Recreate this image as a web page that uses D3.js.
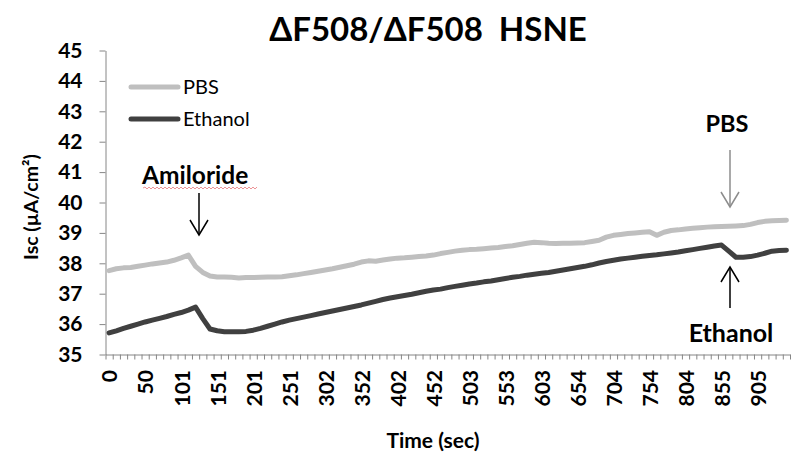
<!DOCTYPE html>
<html>
<head>
<meta charset="utf-8">
<script src="https://d3js.org/d3.v7.min.js"></script>
<style>
  body { margin: 0; background: #fff; }
  text { font-family: Lato, "Open Sans", sans-serif; }
</style>
</head>
<body>
<div id="chart"></div>
<script>
// Data (one value per sample, ~10 s apart)
var seriesNames = ["PBS", "Ethanol"];
var seriesColors = ["#bfbfbf", "#404040"];

var pbs = [37.76, 37.82, 37.85, 37.86, 37.90, 37.94, 37.98, 38.01, 38.04, 38.10,
  38.18, 38.27, 37.90, 37.70, 37.58, 37.55, 37.55, 37.54, 37.52, 37.53,
  37.53, 37.54, 37.55, 37.55, 37.56, 37.59, 37.62, 37.66, 37.70, 37.74,
  37.78, 37.82, 37.87, 37.92, 37.97, 38.04, 38.08, 38.07, 38.11, 38.14,
  38.17, 38.18, 38.20, 38.22, 38.24, 38.27, 38.32, 38.36, 38.40, 38.43,
  38.45, 38.46, 38.48, 38.50, 38.52, 38.55, 38.58, 38.62, 38.66, 38.69,
  38.68, 38.66, 38.65, 38.66, 38.66, 38.67, 38.68, 38.72, 38.76, 38.86,
  38.92, 38.95, 38.98, 39.00, 39.02, 39.04, 38.92, 39.02, 39.08, 39.10,
  39.13, 39.15, 39.17, 39.19, 39.20, 39.21, 39.22, 39.23, 39.24, 39.28,
  39.34, 39.38, 39.40, 39.41, 39.42];

var ethanol = [35.71, 35.78, 35.86, 35.93, 36.00, 36.07, 36.13, 36.19, 36.25, 36.32,
  36.38, 36.46, 36.56, 36.18, 35.84, 35.78, 35.75, 35.75, 35.75, 35.76,
  35.80, 35.86, 35.93, 36.00, 36.07, 36.13, 36.18, 36.23, 36.28, 36.33,
  36.38, 36.43, 36.48, 36.53, 36.58, 36.63, 36.69, 36.75, 36.81, 36.86,
  36.90, 36.94, 36.98, 37.03, 37.08, 37.12, 37.15, 37.20, 37.24, 37.28,
  37.32, 37.35, 37.39, 37.42, 37.46, 37.50, 37.54, 37.57, 37.61, 37.64,
  37.67, 37.70, 37.74, 37.78, 37.82, 37.86, 37.90, 37.95, 38.01, 38.06,
  38.10, 38.14, 38.17, 38.20, 38.23, 38.26, 38.28, 38.31, 38.34, 38.37,
  38.41, 38.45, 38.49, 38.53, 38.57, 38.60, 38.40, 38.20, 38.20, 38.22,
  38.27, 38.33, 38.40, 38.42, 38.43];

// every 5th sample gets a label on the category axis
var xTickLabels = ["0", "50", "101", "151", "201", "251", "302", "352", "402", "452",
  "503", "553", "603", "654", "704", "754", "804", "855", "905"];
var yTicks = [35, 36, 37, 38, 39, 40, 41, 42, 43, 44, 45];

// Step 1 - chart area
var svgWidth = 800;
var svgHeight = 464;
var plot = { left: 105.5, right: 790, top: 50.5, bottom: 354.5 };
var axisColor = "#868686";

var svg = d3.select("#chart")
  .append("svg")
  .attr("width", svgWidth)
  .attr("height", svgHeight);

// Step 2 - scales
var categories = d3.range(pbs.length);
var xScale = d3.scaleBand()
  .domain(categories)
  .range([plot.left, plot.right]);
var xEdges = d3.scaleLinear()
  .domain([0, categories.length])
  .range([plot.left, plot.right]);
var yScale = d3.scaleLinear()
  .domain([35, 45])
  .range([plot.bottom, plot.top]);

// Step 3 - axes
var yAxis = svg.append("g")
  .attr("transform", `translate(${plot.left},0)`)
  .call(d3.axisLeft(yScale).tickValues(yTicks).tickSize(6).tickPadding(17).tickSizeOuter(0));
yAxis.select(".domain").attr("stroke", axisColor);
yAxis.selectAll(".tick line").attr("stroke", axisColor);
yAxis.selectAll(".tick text")
  .attr("fill", "#000")
  .attr("font-size", "21px")
  .attr("font-weight", "bold")
  .style("font-family", "Lato");

var xAxis = svg.append("g")
  .attr("transform", `translate(0,${plot.bottom})`)
  .call(d3.axisBottom(xEdges).tickValues(d3.range(categories.length + 1)).tickSize(5).tickSizeOuter(0).tickFormat(""));
xAxis.select(".domain").attr("stroke", axisColor);
xAxis.selectAll(".tick line").attr("stroke", axisColor);

// rotated category labels
svg.append("g").selectAll("text")
  .data(xTickLabels)
  .enter()
  .append("text")
  .attr("transform", (d, i) => `translate(${xScale(i * 5) + xScale.bandwidth() / 2 + 1},370) rotate(-90)`)
  .attr("dy", "0.35em")
  .attr("text-anchor", "end")
  .attr("font-size", "21px")
  .attr("font-weight", "bold")
  .attr("fill", "#000")
  .text(d => d);

// axis titles
svg.append("text")
  .attr("x", 433)
  .attr("y", 448)
  .attr("text-anchor", "middle")
  .attr("font-size", "21px")
  .attr("font-weight", "bold")
  .text("Time (sec)");

svg.append("text")
  .attr("transform", "translate(31,207) rotate(-90)")
  .attr("dy", "0.35em")
  .attr("text-anchor", "middle")
  .attr("font-size", "19.5px")
  .attr("font-weight", "bold")
  .text("Isc (µA/cm²)");

// title
svg.append("text")
  .attr("x", 428)
  .attr("y", 41)
  .attr("text-anchor", "middle")
  .attr("font-size", "33px")
  .attr("font-weight", "bold")
  .text("ΔF508/ΔF508\u00a0\u00a0HSNE");

// Step 4 - lines
var line = d3.line()
  .x((d, i) => xScale(i) + xScale.bandwidth() / 2)
  .y(d => yScale(d));

[pbs, ethanol].forEach(function(values, s) {
  svg.append("path")
    .datum(values)
    .attr("d", line)
    .attr("fill", "none")
    .attr("stroke", seriesColors[s])
    .attr("stroke-width", 5)
    .attr("stroke-linejoin", "round")
    .attr("stroke-linecap", "round");
});

// Step 5 - legend
seriesNames.forEach(function(name, s) {
  var ly = 87 + s * 32;
  svg.append("line")
    .attr("x1", 131).attr("x2", 178)
    .attr("y1", ly).attr("y2", ly)
    .attr("stroke", seriesColors[s])
    .attr("stroke-width", 5)
    .attr("stroke-linecap", "round");
  svg.append("text")
    .attr("x", 183)
    .attr("y", ly)
    .attr("dy", "0.35em")
    .attr("font-size", "20px")
    .attr("fill", "#000")
    .text(name);
});

// Step 6 - annotations
function arrow(x, yFrom, yTo, color) {
  var dir = yTo > yFrom ? -1 : 1;
  svg.append("line")
    .attr("x1", x).attr("x2", x)
    .attr("y1", yFrom).attr("y2", yTo)
    .attr("stroke", color)
    .attr("stroke-width", 1.5);
  svg.append("path")
    .attr("d", `M${x - 9},${yTo + dir * 15}L${x},${yTo}L${x + 9},${yTo + dir * 15}`)
    .attr("fill", "none")
    .attr("stroke", color)
    .attr("stroke-width", 1.5);
}

svg.append("text")
  .attr("x", 142)
  .attr("y", 184)
  .attr("font-size", "24.5px")
  .attr("font-weight", "bold")
  .text("Amiloride");

// the red spell-check squiggle under "Amiloride"
var squiggle = "M143,188";
for (var sx = 145; sx <= 257; sx += 2) {
  squiggle += `L${sx},${sx % 4 === 1 ? 187 : 189}`;
}
svg.append("path")
  .attr("d", squiggle)
  .attr("fill", "none")
  .attr("stroke", "#e8787c")
  .attr("stroke-width", 0.8);

arrow(199, 193, 235, "#000");

svg.append("text")
  .attr("x", 727)
  .attr("y", 132)
  .attr("text-anchor", "middle")
  .attr("font-size", "23.5px")
  .attr("font-weight", "bold")
  .text("PBS");
arrow(730, 150, 207, "#8c8c8c");

arrow(730, 308, 267, "#000");
svg.append("text")
  .attr("x", 731)
  .attr("y", 342)
  .attr("text-anchor", "middle")
  .attr("font-size", "25px")
  .attr("font-weight", "bold")
  .text("Ethanol");
</script>
</body>
</html>
